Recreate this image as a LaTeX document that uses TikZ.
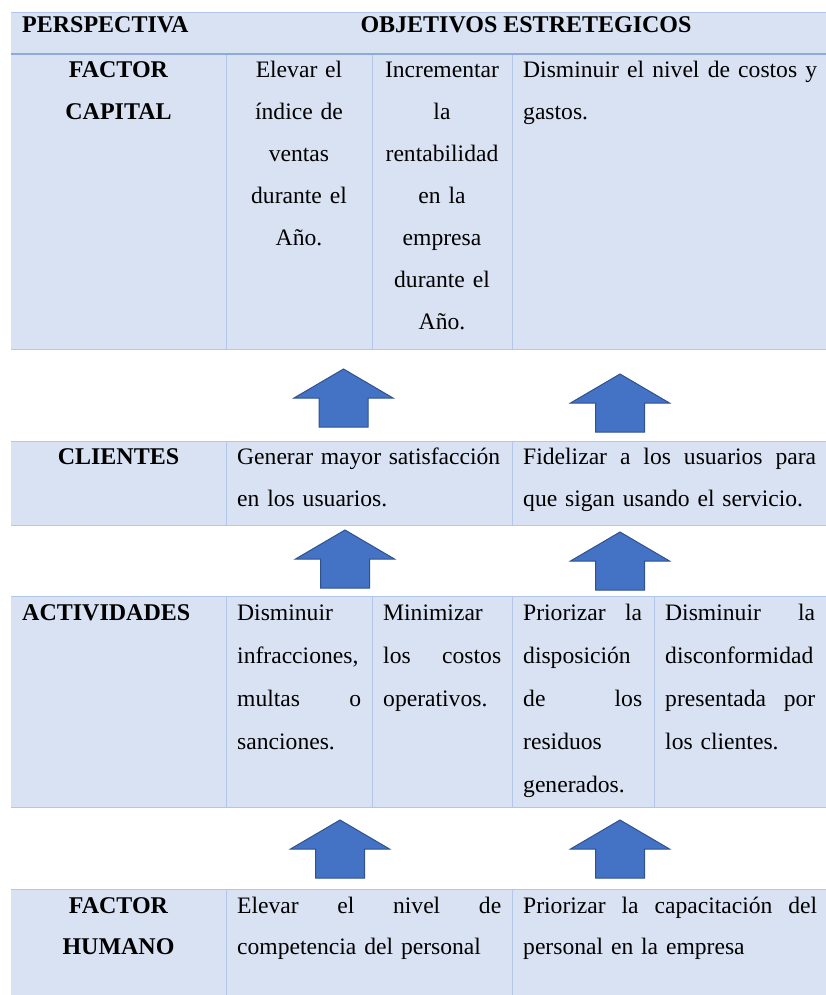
\documentclass[tikz,border=0pt]{standalone}
\usepackage{fontspec}
\setmainfont{Liberation Serif}
\definecolor{cellfill}{HTML}{D9E2F3}
\definecolor{cellline}{HTML}{B4C6E7}
\definecolor{headline}{HTML}{8EAADB}
\definecolor{arrfill}{HTML}{4472C4}
\definecolor{arrdraw}{HTML}{2F528F}
% justified line of given width (pt); words separated by \hfill
\newcommand{\jl}[2]{\leavevmode\hbox to #1pt{#2}}
\tikzset{
  colsep/.style={draw=cellline, line width=1pt},
  cell/.style={inner sep=0pt, anchor=base west, align=left,
    font=\fontsize{23.6}{42}\selectfont},
  cellc/.style={inner sep=0pt, anchor=base, align=center,
    font=\fontsize{23.6}{42}\selectfont},
  uparr/.pic={
    \draw[fill=arrfill, draw=arrdraw, line width=1pt, line join=miter]
      (-24.5,0) -- (-24.5,-29) -- (-49.5,-29) -- (0,-58) -- (49.5,-29)
      -- (24.5,-29) -- (24.5,0) -- cycle;
  }
}
\begin{document}
\begin{tikzpicture}[x=1pt,y=-1pt]
\useasboundingbox (0,0) rectangle (826,995);

% ---------- block 1 ----------
\fill[cellfill] (11,12) rectangle (826,349);
\draw[cellline, line width=0.8pt] (11,12) -- (826,12);
\draw[cellline, line width=0.8pt] (11,349) -- (826,349);
\draw[headline, line width=2pt] (11,54) -- (826,54);
\foreach \xx in {226,372,512} \draw[colsep] (\xx,55) -- (\xx,349);

\node[cell, font=\fontsize{24}{42}\selectfont\bfseries] (hp) at (22,33) {PERSPECTIVA};
\node[cellc, font=\fontsize{24}{42}\selectfont\bfseries] (ho) at (526,33) {OBJETIVOS ESTRETEGICOS};

\node[cellc, text width=193, font=\fontsize{24}{42}\selectfont\bfseries] (fc) at (118.5,78) {FACTOR\\CAPITAL};
\node[cellc, text width=140] (c11) at (299,78) {Elevar el\\índice de\\ventas\\durante el\\Año.};
\node[cellc, text width=136] (c12) at (442,78) {Incrementar\\la\\rentabilidad\\en la\\empresa\\durante el\\Año.};
\node[cell, text width=294] (c13) at (523,78) {\jl{294}{Disminuir\hfill el\hfill nivel\hfill de\hfill costos\hfill y}\\gastos.};

% ---------- block 2 ----------
\fill[cellfill] (11,441) rectangle (826,525);
\draw[cellline, line width=0.8pt] (11,441) -- (826,441);
\draw[cellline, line width=0.8pt] (11,525) -- (826,525);
\foreach \xx in {226,512} \draw[colsep] (\xx,441) -- (\xx,525);

\node[cellc, text width=193, font=\fontsize{24}{42}\selectfont\bfseries] (cl) at (118.5,464) {CLIENTES};
\node[cell, text width=264] (c21) at (237,464) {\jl{263}{Generar\hfill mayor\hfill satisfacción}\\en los usuarios.};
\node[cell, text width=294] (c22) at (523,464) {\jl{293}{Fidelizar\hfill a\hfill los\hfill usuarios\hfill para}\\que sigan usando el servicio.};

% ---------- block 3 ----------
\fill[cellfill] (11,596) rectangle (826,807);
\draw[cellline, line width=0.8pt] (11,596) -- (826,596);
\draw[cellline, line width=0.8pt] (11,807) -- (826,807);
\foreach \xx in {226,372,512,654} \draw[colsep] (\xx,596) -- (\xx,807);

\node[cell, font=\fontsize{24}{43}\selectfont\bfseries] (ac) at (22,620) {ACTIVIDADES};
\node[cell, text width=124, font=\fontsize{23.6}{43}\selectfont] (c31) at (237,620) {Disminuir\\infracciones,\\\jl{124}{multas\hfill o}\\sanciones.};
\node[cell, text width=118, font=\fontsize{23.6}{43}\selectfont] (c32) at (383,620) {Minimizar\\\jl{118}{los\hfill costos}\\operativos.};
\node[cell, text width=120, font=\fontsize{23.6}{43}\selectfont] (c33) at (523,620) {\jl{119}{Priorizar\hfill la}\\disposición\\\jl{119}{de\hfill los}\\residuos\\generados.};
\node[cell, text width=151, font=\fontsize{23.6}{43}\selectfont] (c34) at (665,620) {\jl{150}{Disminuir\hfill la}\\disconformidad\\\jl{150}{presentada\hfill por}\\los clientes.};

% ---------- block 4 ----------
\fill[cellfill] (11,889) rectangle (826,995);
\draw[cellline, line width=0.8pt] (11,889) -- (826,889);
\foreach \xx in {226,512} \draw[colsep] (\xx,889) -- (\xx,995);

\node[cellc, text width=193, font=\fontsize{24}{41}\selectfont\bfseries] (fh) at (118.5,913) {FACTOR\\HUMANO};
\node[cell, text width=264, font=\fontsize{23.6}{41}\selectfont] (c41) at (237,913) {\jl{264}{Elevar\hfill el\hfill nivel\hfill de}\\competencia del personal};
\node[cell, text width=294, font=\fontsize{23.6}{41}\selectfont] (c42) at (523,913) {\jl{294}{Priorizar\hfill la\hfill capacitación\hfill del}\\personal en la empresa};

% ---------- arrows ----------
\coordinate (a1l) at (343.5,427);
\coordinate (a1r) at (620,432);
\coordinate (a2l) at (345,588);
\coordinate (a2r) at (620,590);
\coordinate (a3l) at (340,878);
\coordinate (a3r) at (620,878);
\foreach \aa in {a1l,a1r,a2l,a2r,a3l,a3r} \pic at (\aa) {uparr};
\end{tikzpicture}
\end{document}
